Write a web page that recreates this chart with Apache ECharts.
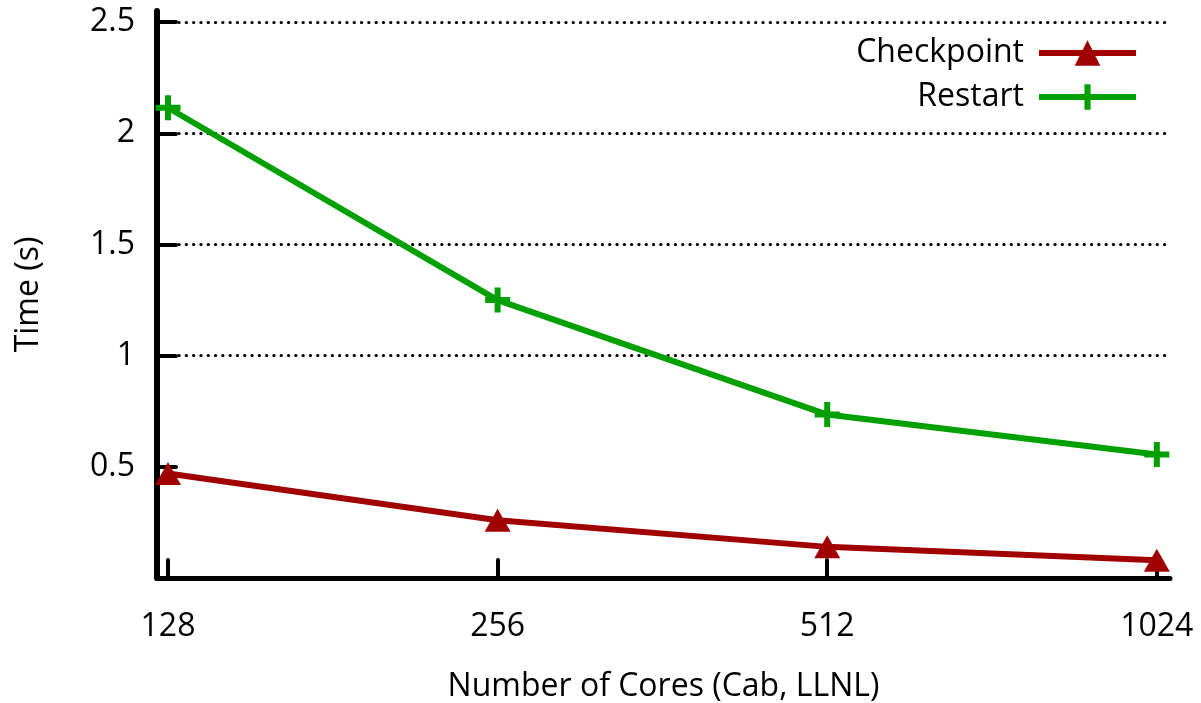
<!DOCTYPE html>
<html>
<head>
<meta charset="utf-8">
<script src="https://cdn.jsdelivr.net/npm/echarts@6/dist/echarts.min.js"></script>
<style>
  html, body { margin: 0; padding: 0; background: #fff; }
  #chart { width: 1201px; height: 703px; }
</style>
</head>
<body>
<div id="chart"></div>
<script>
var cores = ['128', '256', '512', '1024']
var checkpoint = [0.47, 0.26, 0.14, 0.08]
var restart = [2.115, 1.25, 0.735, 0.555]
var yTicks = [0.5, 1, 1.5, 2, 2.5]
var xTicks = [0, 1, 2, 3]

var FONT = 'Open Sans'
var FS = 32
var plusPath = 'path://M9.5,0 H15.5 V9.5 H25 V15.5 H15.5 V25 H9.5 V15.5 H0 V9.5 H9.5 Z'

function toPoints (arr) {
  return arr.map(function (v, i) { return [i, v] })
}

var chart = echarts.init(document.getElementById('chart'))
var option = {
  animation: false,
  backgroundColor: '#ffffff',
  textStyle: { fontFamily: FONT },
  grid: {
    left: 157,
    right: 31,
    top: 11,
    bottom: 125,
    outerBoundsMode: 'none'
  },
  legend: {
    orient: 'vertical',
    align: 'right',
    right: 57,
    top: 32,
    itemWidth: 97,
    itemHeight: 32,
    itemGap: 12,
    textStyle: {
      fontFamily: FONT,
      fontSize: FS,
      color: '#000',
      padding: [0, 10, 0, 0]
    },
    data: [
      { name: 'Checkpoint', lineStyle: { width: 6, color: '#a00000' } },
      { name: 'Restart', lineStyle: { width: 6, color: '#00a000' } }
    ]
  },
  xAxis: {
    type: 'value',
    min: -0.0334,
    max: 3.04,
    name: 'Number of Cores (Cab, LLNL)',
    nameLocation: 'middle',
    nameGap: 93,
    nameTextStyle: { fontFamily: FONT, fontSize: FS, color: '#000' },
    axisLine: {
      show: true,
      onZero: false,
      lineStyle: { color: '#000', width: 5, cap: 'round' }
    },
    axisTick: {
      show: true,
      inside: true,
      length: 18,
      customValues: xTicks,
      lineStyle: { color: '#000', width: 4, cap: 'round' }
    },
    axisLabel: {
      customValues: xTicks,
      margin: 33,
      fontFamily: FONT,
      fontSize: FS,
      color: '#000',
      formatter: function (v) { return cores[Math.round(v)] }
    },
    splitLine: { show: false }
  },
  yAxis: {
    type: 'value',
    min: 0,
    max: 2.55,
    interval: 0.5,
    name: 'Time (s)',
    nameLocation: 'middle',
    nameGap: 112,
    nameTextStyle: { fontFamily: FONT, fontSize: FS, color: '#000' },
    axisLine: {
      show: true,
      onZero: false,
      lineStyle: { color: '#000', width: 6, cap: 'round' }
    },
    axisTick: {
      show: true,
      inside: true,
      length: 19,
      customValues: yTicks,
      lineStyle: { color: '#000', width: 4, cap: 'round' }
    },
    axisLabel: {
      customValues: yTicks,
      margin: 22,
      fontFamily: FONT,
      fontSize: FS,
      color: '#000'
    },
    splitLine: {
      show: true,
      showMinLine: false,
      lineStyle: { color: '#000', width: 3, type: [0.3, 7], cap: 'round' }
    }
  },
  series: [
    {
      name: 'Checkpoint',
      type: 'line',
      data: toPoints(checkpoint),
      color: '#a00000',
      symbol: 'triangle',
      symbolSize: [26, 23],
      lineStyle: { width: 6, color: '#a00000' },
      itemStyle: { color: '#a00000' }
    },
    {
      name: 'Restart',
      type: 'line',
      data: toPoints(restart),
      color: '#00a000',
      symbol: plusPath,
      symbolSize: 25,
      lineStyle: { width: 6, color: '#00a000' },
      itemStyle: { color: '#00a000' }
    }
  ]
}
chart.setOption(option)
</script>
</body>
</html>
